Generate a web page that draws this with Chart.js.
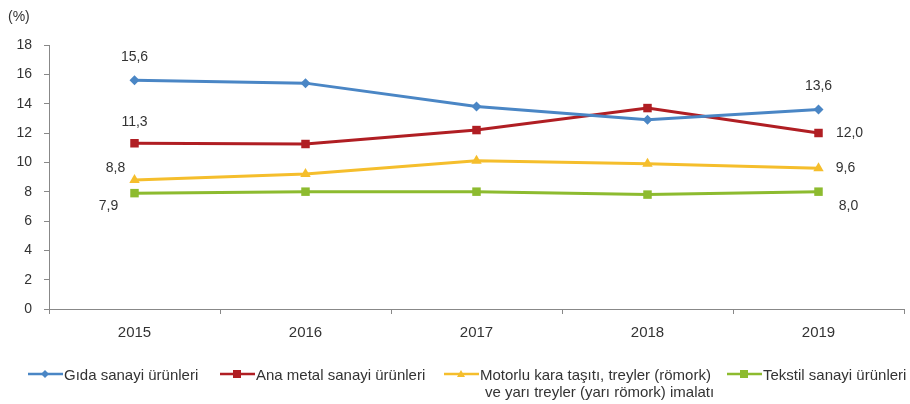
<!DOCTYPE html>
<html>
<head>
<meta charset="utf-8">
<script src="https://cdn.jsdelivr.net/npm/chart.js@4"></script>
<style>
  body { margin: 0; background: #fff; }
  #wrap { position: relative; width: 910px; height: 404px; overflow: hidden; }
  canvas { position: absolute; left: 0; top: 0; }
  .unit { position: absolute; left: 8px; top: 8px; font: 14px "Liberation Sans", Arial, sans-serif; color: #333; }
  .legend { position: absolute; top: 366px; font: 15px "Liberation Sans", Arial, sans-serif; color: #333; line-height: 17px; white-space: nowrap; }
  .legend svg { position: absolute; left: 0; top: 2px; }
  .legend span { position: absolute; left: 36px; top: 0; }
</style>
</head>
<body>
<div id="wrap">
  <canvas id="c" width="910" height="404"></canvas>
  <div class="unit">(%)</div>
  <div id="legend"></div>
</div>
<script>
// 카테고리 / 시리즈
const years = ["2015", "2016", "2017", "2018", "2019"];
const gida = [15.6, 15.4, 13.8, 12.9, 13.6];
const anaMetal = [11.3, 11.25, 12.2, 13.7, 12.0];
const motorlu = [8.8, 9.2, 10.1, 9.9, 9.6];
const tekstil = [7.9, 8.0, 8.0, 7.8, 8.0];
const yTicks = [0, 2, 4, 6, 8, 10, 12, 14, 16, 18];

const seriesNames = [
  "Gıda sanayi ürünleri",
  "Ana metal sanayi ürünleri",
  ["Motorlu kara taşıtı,  treyler (römork)", "ve yarı treyler (yarı römork) imalatı"],
  "Tekstil sanayi ürünleri",
];
const colors = ["#4a86c5", "#b01e23", "#f5be2c", "#8dbb2f"];

// 처음/마지막 값 라벨 위치 (dx, dy)
const labelOffsets = [
  [[0, -23], [0, -23]],
  [[0, -21], [31, 0]],
  [[-19, -12], [27, 0]],
  [[-26, 13], [30, 14]],
];

const endLabels = {
  id: "endLabels",
  afterDatasetsDraw(chart) {
    const ctx = chart.ctx;
    ctx.save();
    ctx.font = "14px 'Liberation Sans', Arial, sans-serif";
    ctx.fillStyle = "#333";
    ctx.textAlign = "center";
    ctx.textBaseline = "middle";
    chart.data.datasets.forEach((ds, i) => {
      const meta = chart.getDatasetMeta(i);
      [0, ds.data.length - 1].forEach((idx, k) => {
        const pt = meta.data[idx];
        const off = labelOffsets[i][k];
        const txt = ds.data[idx].toFixed(1).replace(".", ",");
        ctx.fillText(txt, pt.x + off[0], pt.y + off[1]);
      });
    });
    ctx.restore();
  },
};

const styles = [
  { pointStyle: "rectRot", pointRadius: 5 },
  { pointStyle: "rect", pointRadius: 6 },
  { pointStyle: "triangle", pointRadius: 6 },
  { pointStyle: "rect", pointRadius: 6 },
];

const allData = [gida, anaMetal, motorlu, tekstil];

new Chart(document.getElementById("c"), {
  type: "line",
  data: {
    labels: years,
    datasets: allData.map((d, i) => ({
      label: Array.isArray(seriesNames[i]) ? seriesNames[i].join(" ") : seriesNames[i],
      data: d,
      borderColor: colors[i],
      backgroundColor: colors[i],
      borderWidth: 3,
      pointStyle: styles[i].pointStyle,
      pointRadius: styles[i].pointRadius,
      pointBorderWidth: 0,
      tension: 0,
    })),
  },
  options: {
    responsive: false,
    animation: false,
    layout: { padding: { top: 45, right: 6, left: 0, bottom: 0 } },
    plugins: {
      legend: { display: false },
      tooltip: { enabled: false },
    },
    scales: {
      x: {
        offset: true,
        grid: {
          offset: true,
          drawOnChartArea: false,
          drawTicks: true,
          tickLength: 5,
          color: "#888",
        },
        border: { color: "#888", width: 1 },
        ticks: {
          padding: 10,
          color: "#333",
          font: { family: "'Liberation Sans', Arial, sans-serif", size: 15 },
          maxRotation: 0,
        },
        afterFit(scale) {
          scale.height = 95;
        },
      },
      y: {
        min: 0,
        max: 18,
        afterBuildTicks(scale) {
          scale.ticks = yTicks.map((v) => ({ value: v }));
        },
        grid: {
          drawOnChartArea: false,
          drawTicks: true,
          tickLength: 5,
          color: "#888",
        },
        border: { color: "#888", width: 1 },
        ticks: {
          padding: 12,
          color: "#333",
          font: { family: "'Liberation Sans', Arial, sans-serif", size: 14 },
        },
        afterFit(scale) {
          scale.width = 49;
        },
      },
    },
  },
  plugins: [endLabels],
});

// 범례 (HTML)
const legendPos = [28, 220, 444, 727];
const markerSvg = [
  (c) => `<polygon points="17,2 21,6 17,10 13,6" fill="${c}"/>`,
  (c) => `<rect x="13" y="2" width="8" height="8" fill="${c}"/>`,
  (c) => `<polygon points="17,2 21,9 13,9" fill="${c}"/>`,
  (c) => `<rect x="13" y="2" width="8" height="8" fill="${c}"/>`,
];
const legendEl = document.getElementById("legend");
seriesNames.forEach((name, i) => {
  const item = document.createElement("div");
  item.className = "legend";
  item.style.left = legendPos[i] + "px";
  const text = Array.isArray(name)
    ? `${name[0]}<br><span style="position:static;padding-left:5px">${name[1]}</span>`
    : name;
  item.innerHTML =
    `<svg width="35" height="12"><line x1="0" y1="6" x2="35" y2="6" stroke="${colors[i]}" stroke-width="2.5"/>${markerSvg[i](colors[i])}</svg>` +
    `<span>${text}</span>`;
  legendEl.appendChild(item);
});
</script>
</body>
</html>
